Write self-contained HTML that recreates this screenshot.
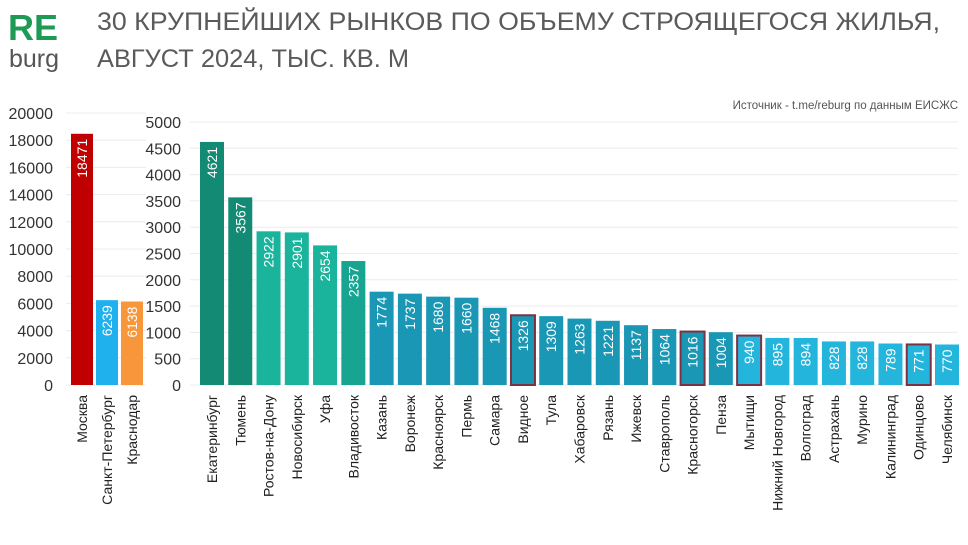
<!DOCTYPE html>
<html><head><meta charset="utf-8"><style>
body{margin:0;background:#fff;}
svg{display:block;font-family:"Liberation Sans","DejaVu Sans",sans-serif;}
</style></head><body>
<svg id="c" width="968" height="545" viewBox="0 0 968 545">
<text x="8" y="40" font-size="36" font-weight="bold" fill="#1f9a55">RE</text>
<text x="9" y="67" font-size="25" fill="#555">burg</text>
<text x="97" y="30" font-size="25" fill="#5a5a5a" textLength="843" lengthAdjust="spacingAndGlyphs">30 КРУПНЕЙШИХ РЫНКОВ ПО ОБЪЕМУ СТРОЯЩЕГОСЯ ЖИЛЬЯ,</text>
<text x="97" y="67" font-size="25" fill="#5a5a5a" textLength="312" lengthAdjust="spacingAndGlyphs">АВГУСТ 2024, ТЫС. КВ. М</text>
<text x="958" y="109" font-size="11.5" fill="#555" text-anchor="end">Источник - t.me/reburg по данным ЕИСЖС</text>
<g id="g"></g>
</svg>
<script>
const leftCats=["Москва","Санкт-Петербург","Краснодар"];
const leftVals=[18471,6239,6138];
const leftTicks=[0,2000,4000,6000,8000,10000,12000,14000,16000,18000,20000];
const rightCats=["Екатеринбург","Тюмень","Ростов-на-Дону","Новосибирск","Уфа","Владивосток","Казань","Воронеж","Красноярск","Пермь","Самара","Видное","Тула","Хабаровск","Рязань","Ижевск","Ставрополь","Красногорск","Пенза","Мытищи","Нижний Новгород","Волгоград","Астрахань","Мурино","Калининград","Одинцово","Челябинск"];
const rightVals=[4621,3567,2922,2901,2654,2357,1774,1737,1680,1660,1468,1326,1309,1263,1221,1137,1064,1016,1004,940,895,894,828,828,789,771,770];
const rightTicks=[0,500,1000,1500,2000,2500,3000,3500,4000,4500,5000];
const outlined=["Видное","Красногорск","Мытищи","Одинцово"];
const leftColors=["#c00000","#1fb0ee","#f7963a"];
function rightColor(i){
  if(i<2) return "#138a74";
  if(i<5) return "#1ab39b";
  if(i<6) return "#17a592";
  if(i<19) return "#1a97b5";
  return "#24b5dc";
}
const NS="http://www.w3.org/2000/svg";
const g=document.getElementById('g');
const y0=385;
function yL(v){return y0-v*(272/20000);}
function yR(v){return y0-v*(263/5000);}
function mk(t,a,txt){const e=document.createElementNS(NS,t);for(const k in a)e.setAttribute(k,a[k]);if(txt!==undefined)e.textContent=txt;g.appendChild(e);return e;}
rightTicks.forEach(v=>{
  const l=mk('line',{x1:190,x2:958,y1:yR(v),y2:yR(v),stroke:'#ececec','stroke-width':1});
  
  
});
leftTicks.forEach(v=>{
  const l=mk('line',{x1:66,x2:146,y1:yL(v),y2:yL(v),stroke:'#ececec','stroke-width':1});
  
  
  const t=mk('text',{x:53,y:yL(v)+6,'font-size':16,fill:'#333','text-anchor':'end'},String(v));
  
  
});
rightTicks.forEach(v=>{
  const t=mk('text',{x:181,y:yR(v)+6,'font-size':16,fill:'#333','text-anchor':'end'},String(v));
  
  
});
function bar(x,w,top,val,col,cat,outline){
  const r=mk('rect',{x:x,y:top,width:w,height:y0-top,fill:col});
  if(outline){r.setAttribute('stroke','#7a3345');r.setAttribute('stroke-width','2');}
  
  
  const cx=x+w/2;
  const vt=mk('text',{x:0,y:0,'font-size':14,fill:'#fff','text-anchor':'end',transform:`translate(${cx+5},${top+5}) rotate(-90)`},String(val));
  
  
  const ct=mk('text',{x:0,y:0,'font-size':14,fill:'#222','text-anchor':'end',transform:`translate(${cx+5},${y0+10}) rotate(-90)`},cat);
  
  
}
leftVals.forEach((v,i)=>bar(71+i*25,22,yL(v),v,leftColors[i],leftCats[i],false));
const pitch=(935-200)/26;
rightVals.forEach((v,i)=>bar(200+i*pitch,24,yR(v),v,rightColor(i),rightCats[i],outlined.includes(rightCats[i])));
</script>
</body></html>
